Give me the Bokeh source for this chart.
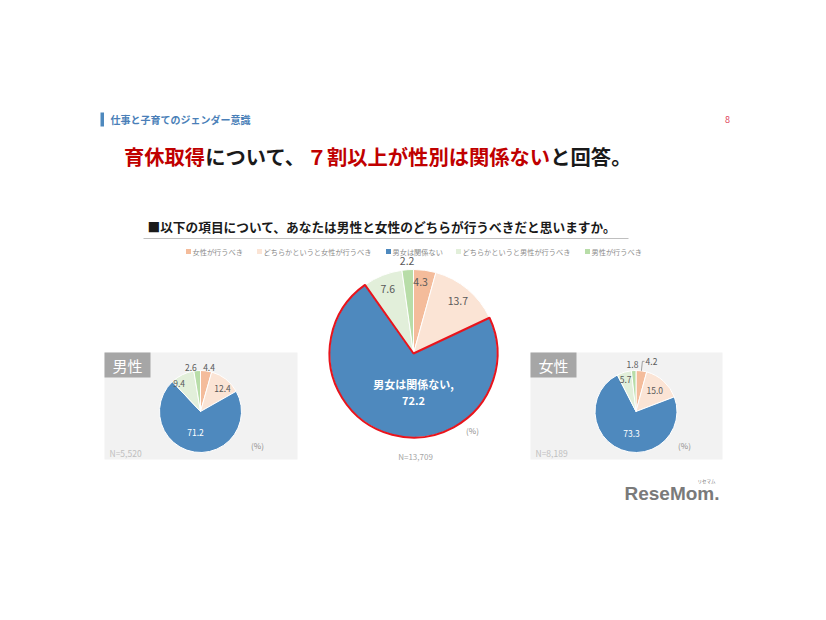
import numpy as np
from bokeh.plotting import figure
from bokeh.models import Range1d, ColumnDataSource
from bokeh.core.properties import value
from bokeh.embed import file_html
from bokeh.resources import INLINE

# ---------------- data ----------------
categories = ["女性が行うべき", "どちらかというと女性が行うべき", "男女は関係ない",
              "どちらかというと男性が行うべき", "男性が行うべき"]
total_values = [4.3, 13.7, 72.2, 7.6, 2.2]
male_values = [4.4, 12.4, 71.2, 9.4, 2.6]
female_values = [4.2, 15.0, 73.3, 5.7, 1.8]
total_n = "N=13,709"
male_n = "N=5,520"
female_n = "N=8,189"
header_text = "仕事と子育てのジェンダー意識"
page_number = "8"
title_parts = ["育休取得", "について、", "７割以上が性別は関係ない", "と回答。"]
question = "■以下の項目について、あなたは男性と女性のどちらが行うべきだと思いますか。"
male_label = "男性"
female_label = "女性"
big_label = "男女は関係ない,"

# ---------------- style ----------------
colors = ["#F4BC9B", "#FBE4D5", "#4E89BE", "#E2EFDA", "#B8DDA8"]
JP = "Noto Sans CJK JP"
W, H = 810, 604

p = figure(width=W, height=H, x_range=Range1d(0, W), y_range=Range1d(620 - H, 620),
           output_backend="svg", toolbar_location=None, min_border=0,
           x_axis_location=None, y_axis_location=None)
p.grid.visible = False
p.outline_line_color = None
p.background_fill_color = "white"
p.border_fill_color = "white"


def Y(sy):
    return 620 - sy


def txt(x, y, s, size, color, align="left", bold=False, font=JP):
    p.text(x=[x], y=[Y(y)], text=[s], text_font=value(font),
           text_font_size=f"{size}px", text_color=color, text_align=align,
           text_baseline="middle", text_font_style="bold" if bold else "normal")


def pie(cx, cy, r, vals, highlight=None):
    fr = np.array(vals, dtype=float) / sum(vals)
    cum = np.concatenate([[0.0], np.cumsum(fr)])
    start = np.pi / 2 - cum[1:] * 2 * np.pi
    end = np.pi / 2 - cum[:-1] * 2 * np.pi
    src = ColumnDataSource(dict(start=start, end=end, color=colors))
    p.wedge(x=cx, y=Y(cy), radius=r, start_angle="start", end_angle="end",
            direction="anticlock", fill_color="color", line_color="white",
            line_width=1, source=src)
    if highlight is not None:
        p.wedge(x=cx, y=Y(cy), radius=r, start_angle=start[highlight],
                end_angle=end[highlight], direction="anticlock",
                fill_color=None, line_color="#E8141C", line_width=2)
    mids = np.pi / 2 - (cum[:-1] + fr / 2) * 2 * np.pi
    return mids


def label_at(cx, cy, r, mid, f, dang=0.0):
    a = mid + np.deg2rad(dang)
    return cx + f * r * np.cos(a), cy - f * r * np.sin(a)


# ---------------- header ----------------
p.quad(left=[100], right=[103.5], top=[Y(112)], bottom=[Y(126)], fill_color="#4E89BE", line_color=None)
txt(110, 119, header_text, 10, "#4A7FB8", bold=True)
txt(727, 119, page_number, 9, "#E0455A", align="center")

# title with coloured parts
fs = 20.3
x0 = 123.5
tcols = ["#C00000", "#1A1A1A", "#C00000", "#1A1A1A"]
pos = x0
for s, c in zip(title_parts, tcols):
    txt(pos, 155, s, fs, c, bold=True)
    pos += len(s) * fs

# question
txt(147, 226, question, 12.7, "#1A1A1A", bold=True)
p.line(x=[143, 628], y=[Y(238), Y(238)], line_color="#BFBFBF", line_width=1)

# legend
leg_x = [188, 259, 388, 458, 587]
for lx, c, name in zip(leg_x, colors, categories):
    p.scatter(x=[lx], y=[Y(251)], marker="square", size=5, fill_color=c, line_color=None)
    txt(lx + 4, 251, name, 7.2, "#8C8C8C")

# ---------------- main pie ----------------
cx, cy, r = 413, 353, 84
mids = pie(cx, cy, r, total_values, highlight=2)
lab = "#595959"
for i, (f, d) in zip([0, 1, 3, 4], [(0.85, 2), (0.82, 0), (0.83, 0), (1.1, 0)]):
    lx, ly = label_at(cx, cy, r, mids[i], f, d)
    txt(lx, ly, f"{total_values[i]:.1f}", 10.5, lab, align="center")
lx, ly = label_at(cx, cy, r, mids[2], 0.36, 14.8)
txt(lx, ly, big_label, 11, "white", align="center", bold=True)
lx, ly = label_at(cx, cy, r, mids[2], 0.56, 14.8)
txt(lx, ly, f"{total_values[2]:.1f}", 11, "white", align="center", bold=True)
txt(472, 430, "(%)", 8, "#8C8C8C", align="center")
txt(415, 456, total_n, 8, "#A6A6A6", align="center")

# ---------------- small panels ----------------
def panel(left, right, label, n_text):
    p.quad(left=[left], right=[right], top=[Y(352)], bottom=[Y(459)],
           fill_color="#F2F2F2", line_color=None)
    p.quad(left=[left], right=[left + 46], top=[Y(352)], bottom=[Y(377)],
           fill_color="#A6A6A6", line_color=None)
    txt(left + 23, 365, label, 15, "white", align="center")
    txt(left + 5, 452, n_text, 8.5, "#BFBFBF")


panel(104, 297, male_label, male_n)
panel(530, 722, female_label, female_n)

# male pie
cx, cy, r = 200, 411, 41
mids = pie(cx, cy, r, male_values)
for i, (f, d) in enumerate([(1.1, -3), (0.78, -5.5), (0.53, -4.8), (0.86, 11), (1.11, 7.5)]):
    lx, ly = label_at(cx, cy, r, mids[i], f, d)
    col = "white" if i == 2 else lab
    txt(lx, ly, f"{male_values[i]:.1f}", 8.5, col, align="center")
txt(257, 445, "(%)", 8, "#8C8C8C", align="center")

# female pie
cx, cy, r = 635.5, 411, 41
mids = pie(cx, cy, r, female_values)
for i, (f, d) in enumerate([(1.28, -9.6), (0.68, 0), (0.55, 9.5), (0.81, 1.5), (1.15, 1)]):
    lx, ly = label_at(cx, cy, r, mids[i], f, d)
    col = "white" if i == 2 else lab
    txt(lx, ly, f"{female_values[i]:.1f}", 8.5, col, align="center")
    if i == 0:
        ex, ey = label_at(cx, cy, r, mids[0], 1.0)
        p.line(x=[lx - 7, ex + 1, ex], y=[Y(ly), Y(ly), Y(ey)], line_color="#8C8C8C", line_width=0.8)
txt(684, 445, "(%)", 8, "#8C8C8C", align="center")

# logo
txt(624, 493, "ReseMom.", 19, "#7A7A7A", bold=True, font="Liberation Sans")
txt(706, 480, "リセマム", 4.5, "#7A7A7A", align="center")

open("out.html", "w").write(file_html(p, INLINE))
